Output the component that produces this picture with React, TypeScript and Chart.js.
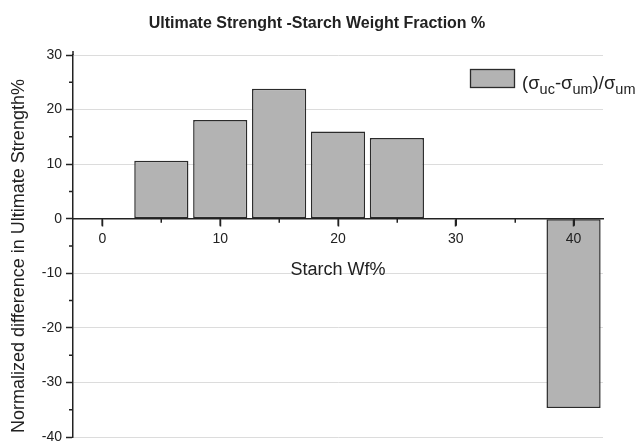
import React, { useEffect, useRef } from "react";
import { Chart, registerables } from "chart.js";

Chart.register(...registerables);

// Starch weight fraction (%) and normalized change in ultimate strength (%)
const starchWf = [5, 10, 15, 20, 25, 40];
const strengthDiff = [10.6, 18.1, 23.8, 16.0, 14.8, -34.7];

// Minor tick positions (major ticks come from the scales' step sizes)
const xMinorTicks = [5, 15, 25, 35];
const yMinorTicks = [25, 15, 5, -5, -15, -25, -35];

const chartTitle = "Ultimate Strenght -Starch Weight Fraction %";
const xAxisTitle = "Starch Wf%";
const yAxisTitle = "Normalized difference in Ultimate Strength%";

// Legend label pieces: [text, isSubscript]
const legendParts: [string, boolean][] = [
  ["(σ", false],
  ["uc", true],
  ["-σ", false],
  ["um", true],
  [")/σ", false],
  ["um", true],
];

const FONT = "'Liberation Sans', Arial, Helvetica, sans-serif";
const INK = "#222222";
const BAR_FILL = "#b3b3b3";
const BAR_EDGE = "#2b2b2b";
const GRID = "#dcdcdc";

// Tick marks hanging below the zero line (major and minor), and minor ticks
// on the value axis
const tickMarksPlugin = {
  id: "tickMarks",
  afterDraw(chart: any) {
    const { ctx, chartArea, scales } = chart;
    const xs = scales.x;
    const ys = scales.y;
    const axisY = ys.getPixelForValue(0);
    ctx.save();
    ctx.strokeStyle = INK;
    ctx.lineWidth = 1.5;
    ctx.beginPath();
    for (const t of xs.ticks) {
      const px = Math.round(xs.getPixelForValue(t.value)) + 0.25;
      ctx.moveTo(px, axisY);
      ctx.lineTo(px, axisY + 7);
    }
    for (const v of xMinorTicks) {
      const px = Math.round(xs.getPixelForValue(v)) + 0.25;
      ctx.moveTo(px, axisY);
      ctx.lineTo(px, axisY + 4);
    }
    for (const v of yMinorTicks) {
      const py = ys.getPixelForValue(v);
      ctx.moveTo(chartArea.left - 4, py);
      ctx.lineTo(chartArea.left, py);
    }
    // value axis runs a little past its top tick
    ctx.moveTo(chartArea.left, chartArea.top);
    ctx.lineTo(chartArea.left, chartArea.top - 4);
    ctx.stroke();
    ctx.restore();
  },
};

// Chart title across the canvas, and the vertical axis title set slightly
// below the middle of the value axis
const titlesPlugin = {
  id: "titles",
  afterDraw(chart: any) {
    const { ctx, chartArea, width } = chart;
    ctx.save();
    ctx.fillStyle = INK;
    ctx.textAlign = "center";
    ctx.textBaseline = "middle";
    ctx.font = `bold 16px ${FONT}`;
    ctx.fillText(chartTitle, width / 2 - 3, 24);

    ctx.translate(18.7, (chartArea.top + chartArea.bottom) / 2 + 10);
    ctx.rotate(-Math.PI / 2);
    ctx.font = `18px ${FONT}`;
    ctx.fillText(yAxisTitle, 0, 0);
    ctx.restore();
  },
};

const subscriptLegendPlugin = {
  id: "subscriptLegend",
  afterDraw(chart: any) {
    const { ctx, chartArea } = chart;
    const boxX = chartArea.right - 133;
    const boxY = chartArea.top + 14;
    const boxW = 45;
    const boxH = 19;
    ctx.save();
    ctx.fillStyle = BAR_FILL;
    ctx.fillRect(boxX, boxY, boxW, boxH);
    ctx.strokeStyle = BAR_EDGE;
    ctx.lineWidth = 1.3;
    ctx.strokeRect(boxX + 0.5, boxY + 0.5, boxW - 1, boxH - 1);
    ctx.fillStyle = INK;
    ctx.textBaseline = "alphabetic";
    ctx.textAlign = "left";
    let x = boxX + 52;
    const baseline = boxY + 19.5;
    for (const [text, sub] of legendParts) {
      ctx.font = sub ? `14.5px ${FONT}` : `18.5px ${FONT}`;
      ctx.fillText(text, x, sub ? baseline + 5.5 : baseline);
      x += ctx.measureText(text).width;
    }
    ctx.restore();
  },
};

export default function App() {
  const canvasRef = useRef<HTMLCanvasElement | null>(null);

  useEffect(() => {
    if (!canvasRef.current) return;
    const chart = new Chart(canvasRef.current, {
      type: "bar",
      data: {
        datasets: [
          {
            data: starchWf.map((x, i) => ({ x, y: strengthDiff[i] })),
            backgroundColor: BAR_FILL,
            borderColor: BAR_EDGE,
            borderWidth: 1.5,
            borderSkipped: false,
            barPercentage: 0.92,
            categoryPercentage: 1,
          },
        ],
      },
      options: {
        responsive: false,
        animation: false,
        events: [],
        layout: { padding: { top: 55, left: 0, right: 37, bottom: 5 } },
        plugins: {
          legend: { display: false },
          tooltip: { enabled: false },
          title: { display: false },
        },
        scales: {
          x: {
            type: "linear",
            min: -2.5,
            max: 42.5,
            offset: false,
            position: { y: 0 },
            ticks: {
              stepSize: 10,
              includeBounds: false,
              color: INK,
              font: { family: FONT, size: 14 },
              padding: 5,
              maxRotation: 0,
              autoSkip: false,
              z: 1,
            },
            grid: {
              offset: false,
              drawOnChartArea: false,
              drawTicks: true,
              tickColor: INK,
              tickLength: 7,
              tickWidth: 1.5,
              z: 1,
            },
            border: { display: true, color: INK, width: 1.5, z: 1 },
            title: {
              display: true,
              text: xAxisTitle,
              color: INK,
              font: { family: FONT, size: 18 },
              padding: { top: 7, bottom: 0 },
            },
            afterFit: (s: any) => {
              s.paddingLeft = 0;
              s.paddingRight = 0;
            },
          },
          y: {
            min: -40,
            max: 30,
            ticks: {
              stepSize: 10,
              color: INK,
              font: { family: FONT, size: 14 },
              padding: 4,
            },
            grid: {
              color: (c: any) =>
                c.tick && c.tick.value === 0 ? "rgba(0,0,0,0)" : GRID,
              lineWidth: 1,
              tickColor: INK,
              tickLength: 7,
              tickWidth: 1.5,
            },
            border: { display: true, color: INK, width: 1.5 },
            title: { display: false },
            afterFit: (s: any) => {
              s.width = 73;
              s.paddingTop = 0;
              s.paddingBottom = 0;
            },
          },
        },
      } as any,
      plugins: [tickMarksPlugin, subscriptLegendPlugin, titlesPlugin],
    });
    return () => chart.destroy();
  }, []);

  return (
    <div style={{ position: "absolute", left: 0, top: 0, width: 640, height: 442, background: "#fff" }}>
      <canvas ref={canvasRef} width={640} height={442} style={{ display: "block" }} />
    </div>
  );
}
